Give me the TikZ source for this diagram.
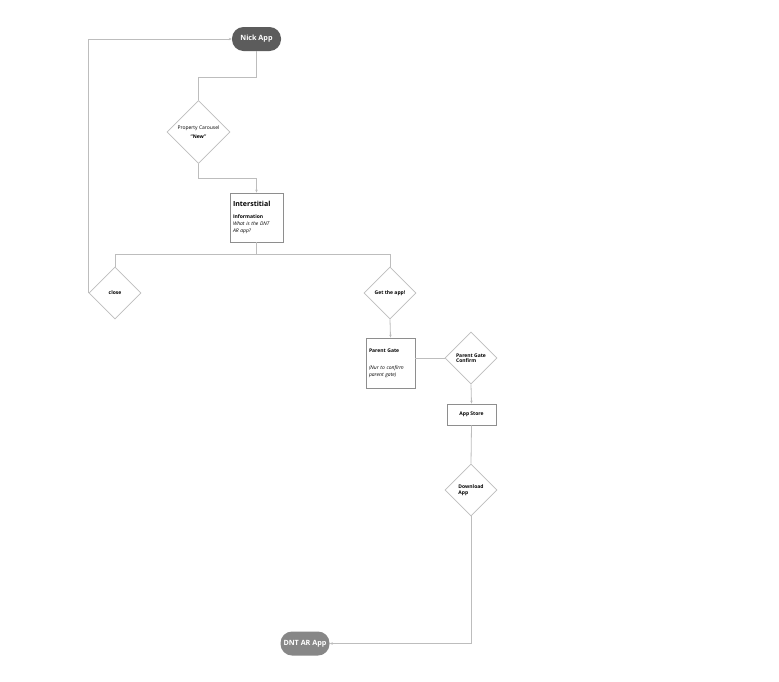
\documentclass[tikz,border=0pt]{standalone}
\usepackage{fontspec}
\setmainfont{Open Sans}
\usetikzlibrary{shapes.geometric,arrows.meta}
\definecolor{linegray}{HTML}{BDBDBD}
\definecolor{boxgray}{HTML}{8E8E8E}
\definecolor{pilldark}{HTML}{5C5C5C}
\definecolor{pilllight}{HTML}{878787}
\begin{document}
\begin{tikzpicture}[x=1pt,y=-1pt,
  pill/.style={rectangle,rounded corners=11.5pt,minimum width=49pt,minimum height=24pt,inner sep=0pt,text=white,font=\fontsize{7.2}{8}\selectfont\bfseries},
  dia/.style={diamond,draw=linegray,line width=0.8pt,minimum width=52pt,minimum height=52pt,inner sep=0pt,font=\fontsize{5}{6.5}\selectfont},
  boxn/.style={rectangle,draw=boxgray,line width=0.8pt,inner sep=0pt,font=\fontsize{5}{7}\selectfont},
  conn/.style={draw=linegray,line width=0.8pt},
  arr/.style={conn,-{Stealth[length=3pt,width=2.5pt]}}
]
\useasboundingbox (0,0) rectangle (779,681);
\fill[white] (0,0) rectangle (779,681);

\node[pill,fill=pilldark] (nick) at (256.5,39) {Nick App};
\node[dia,minimum width=63pt,minimum height=63pt,align=center] (pc) at (198.5,132) {Property Carousel\\[3pt]\textbf{\char"201C New\char"201D}};
\node[boxn,minimum width=53pt,minimum height=49pt,text width=47pt,align=left] (inter) at (256.5,217.5)
  {{\fontsize{7}{8}\selectfont\bfseries Interstitial}\\[5pt]\textbf{Information}\\\textit{What is the DNT}\\\textit{AR app?}};
\node[dia] (close) at (115,293) {\textbf{close}};
\node[dia] (get) at (390,293) {\textbf{Get the app!}};
\node[boxn,minimum width=49pt,minimum height=50pt,text width=43pt,align=left] (pg) at (390.5,363)
  {\textbf{Parent Gate}\\[10pt]\textit{(Nur to confirm}\\\textit{parent gate)}};
\node[dia,align=left] (pgc) at (471,358) {\textbf{Parent Gate}\\[-1pt]\textbf{Confirm}};
\node[boxn,minimum width=49pt,minimum height=21pt] (as) at (471.5,414.5) {\textbf{App Store}};
\node[dia,align=left] (dl) at (471,490) {\textbf{Download}\\[-1pt]\textbf{App}\hspace*{15pt}};
\node[pill,fill=pilllight] (dnt) at (305,643.5) {DNT AR App};

\draw[conn] (nick.south) -- ++(0,26) -| (pc.north);
\draw[arr] (pc.south) -- ++(0,14) -| (inter.north);
\draw[conn] (inter.south) -- ++(0,11.5) -| (close.north);
\draw[conn] (inter.south) -- ++(0,11.5) -| (get.north);
\draw[arr] (close.west) |- (nick.west);
\draw[arr] (get.south) -- (pg.north);
\draw[conn] (pgc.west) -- (pgc.west -| pg.east);
\draw[arr] (pgc.south) -- (as.north);
\draw[conn] (as.south) -- (dl.north);
\draw[arr] (dl.south) |- (dnt.east);
\end{tikzpicture}
\end{document}
